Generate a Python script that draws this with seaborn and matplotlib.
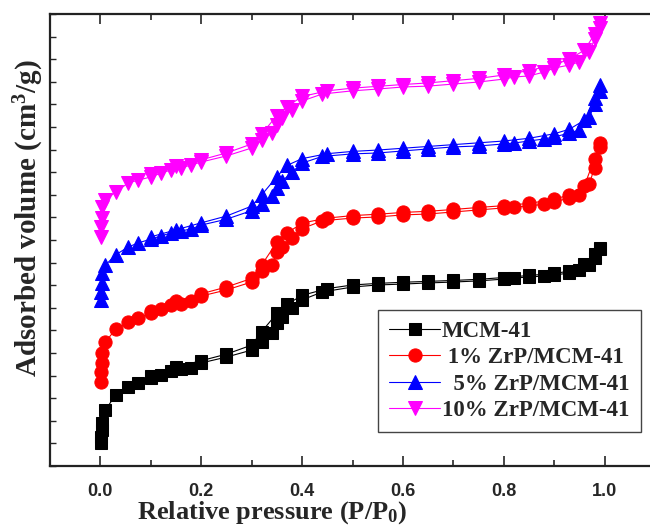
import numpy as np
import pandas as pd
import matplotlib
matplotlib.use("Agg")
import matplotlib.pyplot as plt
from matplotlib.ticker import MultipleLocator, NullFormatter
import seaborn as sns

# ============================================================
# N2 isotherm data (relative pressure vs adsorbed volume, a.u.)
# ============================================================

ads_p = [0.001, 0.002, 0.003, 0.004, 0.01, 0.03, 0.055, 0.075, 0.10, 0.12,
         0.14, 0.16, 0.18, 0.20, 0.25, 0.30, 0.32, 0.34, 0.35, 0.36,
         0.38, 0.40, 0.44, 0.50, 0.55, 0.60, 0.65, 0.70, 0.75, 0.80,
         0.82, 0.85, 0.88, 0.90, 0.93, 0.95, 0.97, 0.98, 0.99]
des_p = [0.99, 0.98, 0.96, 0.93, 0.90, 0.85, 0.80, 0.75, 0.70, 0.65, 0.60,
         0.55, 0.50, 0.45, 0.40, 0.37, 0.35, 0.32, 0.30, 0.25, 0.20, 0.15, 0.10]

mcm_ads = [1.02, 1.28, 1.59, 1.90, 2.48, 3.14, 3.50, 3.67, 3.89, 4.03,
           4.20, 4.29, 4.34, 4.56, 4.82, 5.13, 5.49, 5.88, 6.33, 6.59,
           6.99, 7.35, 7.70, 7.92, 8.01, 8.05, 8.10, 8.14, 8.19, 8.27,
           8.32, 8.36, 8.41, 8.45, 8.54, 8.67, 8.89, 9.20, 9.65]
mcm_des = [9.60, 9.40, 8.95, 8.62, 8.52, 8.43, 8.34, 8.26, 8.21, 8.17, 8.13,
           8.08, 8.01, 7.85, 7.55, 7.15, 6.75, 5.95, 5.35, 4.95, 4.66, 4.38, 4.00]

zrp1_ads = [3.72, 4.16, 4.56, 5.00, 5.49, 6.05, 6.37, 6.55, 6.77, 6.95,
            7.12, 7.17, 7.30, 7.52, 7.79, 8.14, 8.63, 8.89, 9.47, 9.69,
            10.09, 10.50, 10.85, 10.97, 11.02, 11.11, 11.15, 11.24, 11.33, 11.42,
            11.46, 11.50, 11.59, 11.68, 11.86, 11.99, 12.50, 13.20, 14.29]
zrp1_des = [14.10, 13.60, 12.40, 12.00, 11.80, 11.62, 11.52, 11.44, 11.35, 11.27, 11.22,
            11.14, 11.08, 10.97, 10.75, 10.30, 9.90, 8.90, 8.30, 7.92, 7.62, 7.28, 6.88]

zrp5_ads = [7.35, 7.70, 8.10, 8.54, 8.89, 9.34, 9.69, 9.87, 10.04, 10.18,
            10.31, 10.40, 10.49, 10.66, 10.92, 11.30, 11.60, 11.95, 12.30, 12.60,
            13.00, 13.40, 13.70, 13.81, 13.85, 13.94, 14.03, 14.12, 14.16, 14.25,
            14.29, 14.38, 14.47, 14.56, 14.73, 14.87, 15.44, 16.00, 16.86]
zrp5_des = [16.60, 16.30, 15.30, 14.90, 14.70, 14.50, 14.38, 14.30, 14.22, 14.14, 14.06,
            13.98, 13.92, 13.82, 13.60, 13.30, 12.80, 12.00, 11.50, 11.06, 10.76, 10.45, 10.14]

zrp10_ads = [10.13, 10.58, 10.97, 11.46, 11.77, 12.12, 12.52, 12.65, 12.79, 12.96,
             13.10, 13.19, 13.32, 13.45, 13.72, 14.07, 14.42, 14.73, 15.10, 15.40,
             15.75, 16.15, 16.46, 16.60, 16.68, 16.77, 16.81, 16.90, 16.99, 17.12,
             17.21, 17.26, 17.43, 17.61, 17.74, 17.88, 18.30, 18.90, 19.60]
zrp10_des = [19.40, 19.10, 18.40, 18.00, 17.75, 17.50, 17.30, 17.15, 17.05, 16.95, 16.88,
             16.80, 16.72, 16.60, 16.35, 15.90, 15.50, 14.70, 14.25, 13.85, 13.55, 13.28, 12.92]

labels = ["MCM-41", " 1% ZrP/MCM-41", "  5% ZrP/MCM-41", "10% ZrP/MCM-41"]
colors = ["black", "red", "blue", "magenta"]
markers = ["s", "o", "^", "v"]
msizes = [9, 9.5, 10, 10]
ads_sets = [mcm_ads, zrp1_ads, zrp5_ads, zrp10_ads]
des_sets = [mcm_des, zrp1_des, zrp5_des, zrp10_des]

# ============================================================
# Plot
# ============================================================

sns.set_style("ticks")
plt.rcParams["mathtext.default"] = "regular"

fig = plt.figure(figsize=(6.5, 5.3), dpi=100)
ax = fig.add_axes([50 / 650, 64 / 530, 605 / 650, 452 / 530])

for lab, col, mk, ms, ads, des in zip(labels, colors, markers, msizes, ads_sets, des_sets):
    df_a = pd.DataFrame({"p": ads_p, "v": ads})
    df_d = pd.DataFrame({"p": des_p, "v": des})
    for df, lb in [(df_a, lab), (df_d, None)]:
        sns.lineplot(data=df, x="p", y="v", sort=False, ax=ax, color=col,
                     marker=mk, markersize=ms, markeredgecolor=col,
                     linewidth=0.8, label=lb, legend=False)

ax.set_xlim(-0.1, 1.1)
ax.set_ylim(0, 20)
ax.xaxis.set_major_locator(MultipleLocator(0.2))
ax.xaxis.set_minor_locator(MultipleLocator(0.1))
ax.yaxis.set_major_locator(MultipleLocator(1))
ax.yaxis.set_major_formatter(NullFormatter())
ax.tick_params(axis="x", which="major", direction="in", length=7, width=1.2,
               top=True, labelsize=13, pad=12)
ax.tick_params(axis="x", which="minor", direction="in", length=4, width=1.2, top=True)
ax.tick_params(axis="y", which="major", direction="in", length=4, width=1.0,
               left=True, right=False)
for lbl in ax.get_xticklabels():
    lbl.set_fontweight("bold")
    lbl.set_family("Liberation Sans")
for sp in ax.spines.values():
    sp.set_linewidth(1.6)
    sp.set_color("#222222")

ax.set_xlabel("Relative pressure (P/P$_0$)", family="Liberation Serif",
              fontweight="bold", fontsize=19)
ax.set_ylabel("Adsorbed volume (cm$^3$/g)", family="Liberation Serif",
              fontweight="bold", fontsize=21)
ax.xaxis.set_label_coords(0.367, -0.074)
ax.yaxis.set_label_coords(-0.006, 0.549)

leg = ax.legend(loc="lower left", bbox_to_anchor=(0.542, 0.075), fancybox=False,
                framealpha=1, edgecolor="#444444", handlelength=2.2,
                borderpad=0.5, labelspacing=0.22, handletextpad=0.1,
                borderaxespad=0,
                prop={"family": "Liberation Serif", "weight": "bold", "size": 16.5})
leg.get_frame().set_linewidth(1.0)

fig.savefig("out.png", dpi=100)
